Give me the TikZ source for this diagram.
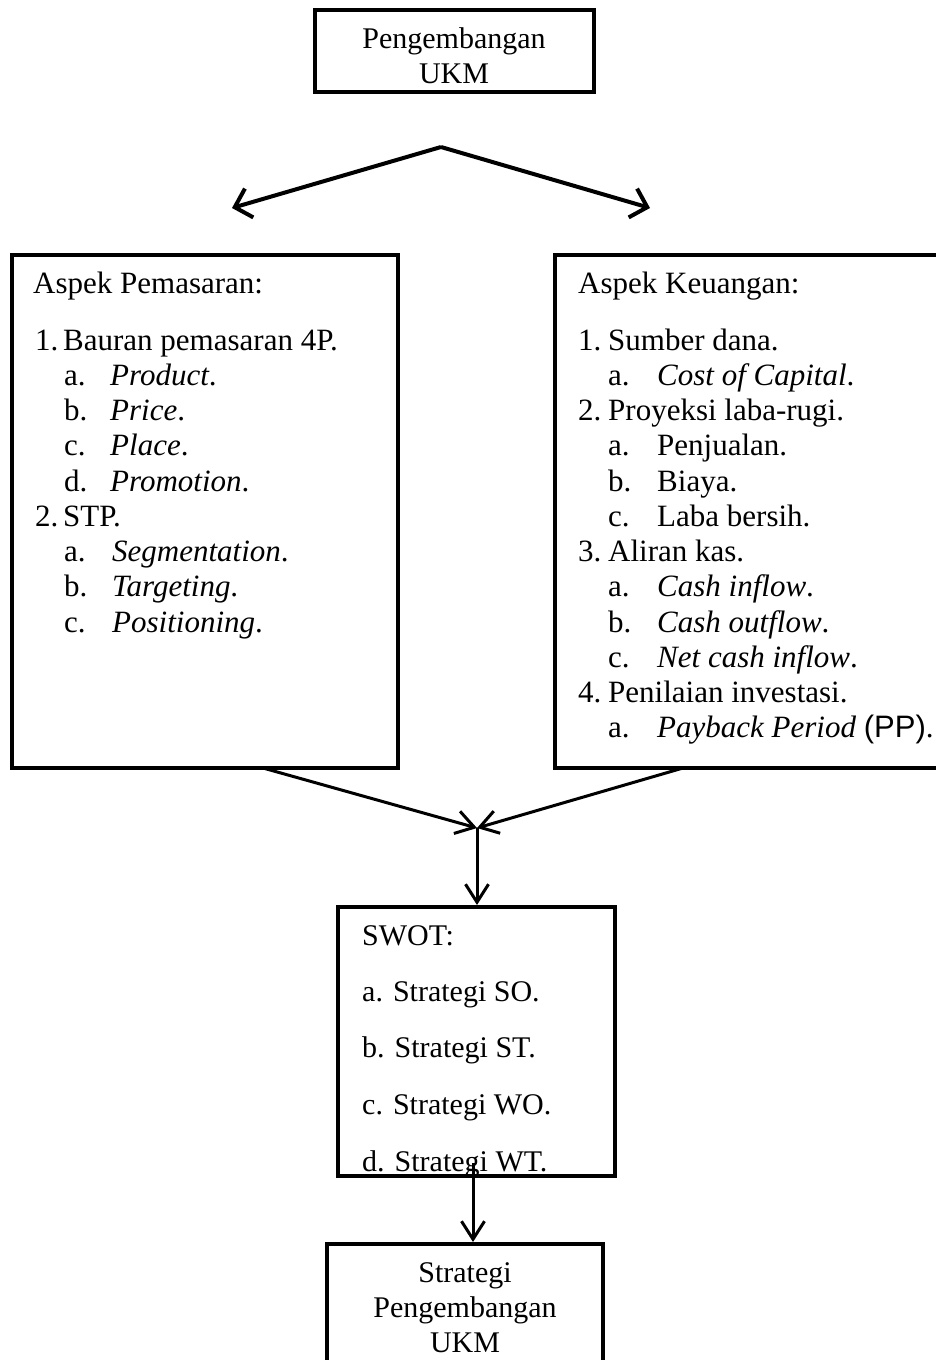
\documentclass[tikz,border=0pt]{standalone}
\usepackage{fontspec}
\setmainfont{Liberation Serif}
\newfontfamily\sansf{Liberation Sans}
\usetikzlibrary{arrows.meta}
\newcommand\fsz{\fontsize{30}{35}\selectfont}
\newcommand\fsl{\fontsize{31}{35}\selectfont}
\tikzset{
  box/.style={draw, line width=4pt, inner sep=0pt, fill=none},
  txt/.style={anchor=base west, inner sep=0pt, font=\fsz},
  ltxt/.style={anchor=base west, inner sep=0pt, font=\fsl},
  ctxt/.style={anchor=base, inner sep=0pt, font=\fsz},
  arrbig/.style={line width=4pt, -{Straight Barb[length=15pt,width=30pt]}},
  arrsmall/.style={line width=3pt, -{Straight Barb[length=18pt,width=23pt]}},
}
\begin{document}
\begin{tikzpicture}[x=1pt,y=-1pt]
\useasboundingbox (0,0) rectangle (936,1360);
\begin{scope}
\clip (0,0) rectangle (936,1360);
% boxes
\node[box, minimum width=279pt, minimum height=82pt] (top) at (454.5,51) {};
\node[box, minimum width=386pt, minimum height=513pt] (left) at (205,511.5) {};
\node[box, minimum width=395pt, minimum height=513pt] (right) at (752.5,511.5) {};
\node[box, minimum width=277pt, minimum height=269pt] (swot) at (476.5,1041.5) {};
\node[box, minimum width=276pt, minimum height=136pt] (bot) at (465,1312) {};

% top text
\node[ctxt] (t1) at (454,48) {Pengembangan};
\node[ctxt] (t2) at (454,83) {UKM};

% left box text
\node[ltxt] (lh) at (33,293) {Aspek Pemasaran:};
\node[ltxt] (ln1) at (35,350) {1.};
\node[ltxt] (lm1) at (63,350) {Bauran pemasaran 4P.};
\foreach \k/\l/\t in {1/a/Product,2/b/Price,3/c/Place,4/d/Promotion}{
  \node[ltxt] (lsa\k) at (64,350+35.25*\k) {\l.};
  \node[ltxt] (lsb\k) at (110,350+35.25*\k) {\textit{\t}.};
}
\node[ltxt] (ln2) at (35,526.25) {2.};
\node[ltxt] (lm2) at (63,526.25) {STP.};
\foreach \k/\l/\t in {6/a/Segmentation,7/b/Targeting,8/c/Positioning}{
  \node[ltxt] (lsa\k) at (64,350+35.25*\k) {\l.};
  \node[ltxt] (lsb\k) at (112,350+35.25*\k) {\textit{\t}.};
}

% right box text
\node[ltxt] (rh) at (578,293) {Aspek Keuangan:};
\foreach \k/\n/\t in {0/1/Sumber dana.,2/2/Proyeksi laba-rugi.,6/3/Aliran kas.,10/4/Penilaian investasi.}{
  \node[ltxt] (rn\k) at (578,350+35.25*\k) {\n.};
  \node[ltxt] (rm\k) at (608,350+35.25*\k) {\t};
}
\foreach \k/\l/\t in {1/a/\textit{Cost of Capital}.,3/a/Penjualan.,4/b/Biaya.,5/c/Laba bersih.,7/a/\textit{Cash inflow}.,8/b/\textit{Cash outflow}.,9/c/\textit{Net cash inflow}.,11/a/\textit{Payback Period} {\sansf(PP)}.}{
  \node[ltxt] (rsa\k) at (608,350+35.25*\k) {\l.};
  \node[ltxt] (rsb\k) at (657,350+35.25*\k) {\t};
}

% swot text
\node[txt] (s0) at (362,945) {SWOT:};
\node[txt] (s1) at (362,1001) {a. Strategi SO.};
\node[txt] (s2) at (362,1057) {b. Strategi ST.};
\node[txt] (s3) at (362,1114) {c. Strategi WO.};
\node[txt] (s4) at (362,1171) {d. Strategi WT.};

% bottom text
\node[ctxt] (b1) at (465,1282) {Strategi};
\node[ctxt] (b2) at (465,1317) {Pengembangan};
\node[ctxt] (b3) at (465,1352) {UKM};

% connectors
\coordinate (split) at (441,147);
\coordinate (lt) at (232,208);
\coordinate (rt) at (650,208);
\draw[arrbig] (split) -- (lt);
\draw[arrbig] (split) -- (rt);

\coordinate (ls) at (263,768);
\coordinate (rs) at (683,768);
\coordinate (merge) at (477,828);
\draw[arrsmall] (ls) -- (merge);
\draw[arrsmall] (rs) -- (merge);
\draw[arrsmall] (merge) -- (merge |- swot.north);

\coordinate (sw) at (473,1163);
\draw[arrsmall] (sw) -- (sw |- bot.north);
\end{scope}
\end{tikzpicture}
\end{document}
